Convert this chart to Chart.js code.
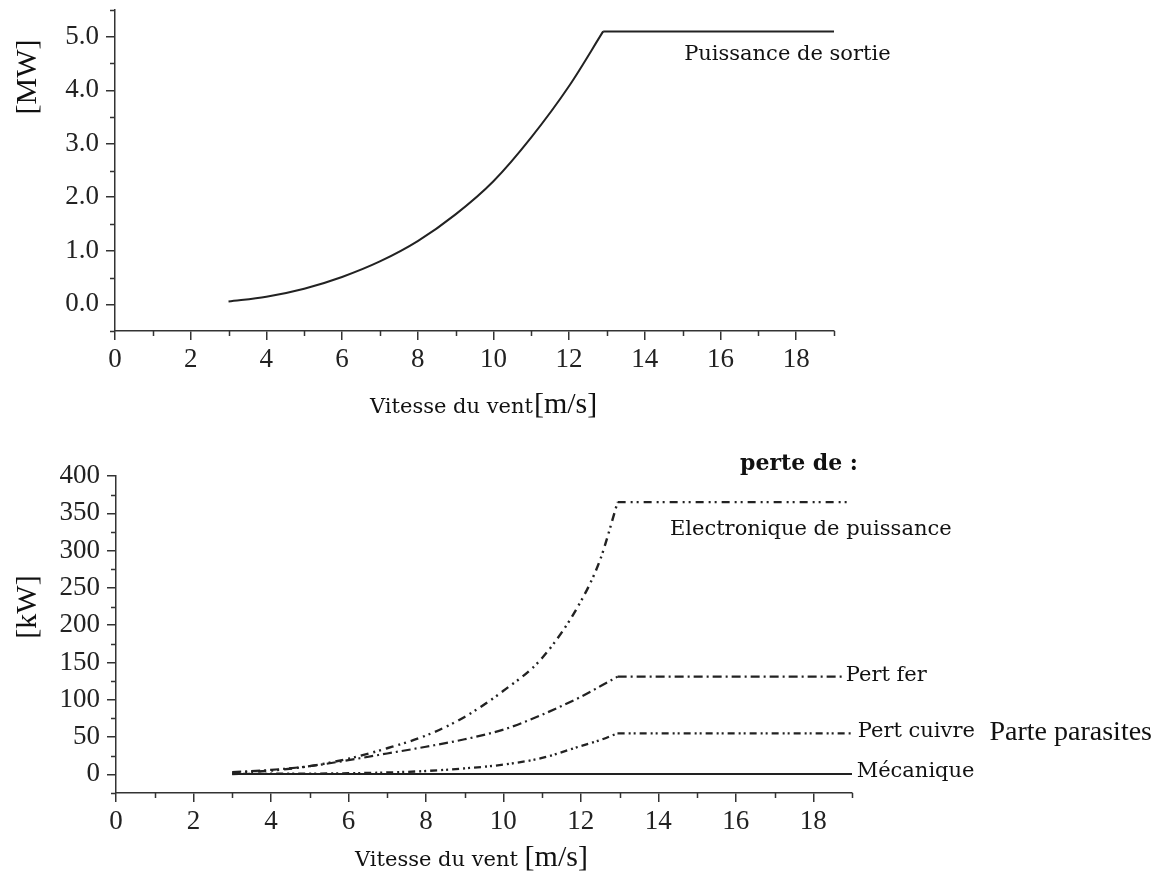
<!DOCTYPE html>
<html>
<head>
<meta charset="utf-8">
<script src="https://cdn.jsdelivr.net/npm/chart.js@4.4.1/dist/chart.umd.min.js"></script>
<style>
  html, body { margin: 0; padding: 0; background: #ffffff; }
  #page { position: relative; width: 1170px; height: 880px; overflow: hidden; background: #fff; }
  #page canvas { position: absolute; left: 0; }
</style>
</head>
<body>
<div id="page">
  <canvas id="powerChart" width="1170" height="460" style="top:-20px"></canvas>
  <canvas id="lossChart" width="1170" height="440" style="top:440px"></canvas>
</div>
<script>
// ---- Output power (MW) versus wind speed ----
const speedRamp      = [3, 4, 5, 6, 7, 8, 9, 10, 11, 12, 12.9];
const outputMW       = [0.05, 0.14, 0.29, 0.51, 0.80, 1.18, 1.68, 2.30, 3.12, 4.08, 5.10];
const plateauSpeed   = [12.9, 19];
const outputRatedMW  = [5.10, 5.10];

// ---- Losses (kW) versus wind speed ----
const lossSpeed        = [3, 4, 5, 6, 7, 8, 9, 10, 11, 12, 12.5, 12.95];
const electroniqueKW   = [2, 5, 11, 21, 35, 52, 77, 112, 156, 232, 288, 365];
const ferKW            = [3, 6, 11, 19, 28, 37, 47, 60, 80, 104, 118, 131];
const cuivreKW         = [0.5, 0.8, 1, 1.5, 2.5, 4.5, 8, 13, 22, 38, 46, 55];
const electroniqueFlatSpeed = [12.95, 18.9];
const electroniqueFlatKW    = [365, 365];
const ferFlatSpeed     = [12.95, 18.8];
const ferFlatKW        = [131, 131];
const cuivreFlatSpeed  = [12.95, 19];
const cuivreFlatKW     = [55, 55];
const mecaSpeed        = [3, 19];
const mecaKW           = [0.5, 0.5];

// ---- Axis ticks ----
const speedTicks      = [0, 2, 4, 6, 8, 10, 12, 14, 16, 18];
const speedMinorTicks = [1, 3, 5, 7, 9, 11, 13, 15, 17, 19];
const mwTicks         = [0, 1, 2, 3, 4, 5];
const mwMinorTicks    = [-0.5, 0.5, 1.5, 2.5, 3.5, 4.5, 5.5];
const kwTicks         = [0, 50, 100, 150, 200, 250, 300, 350, 400];
const kwMinorTicks    = [-25, 25, 75, 125, 175, 225, 275, 325, 375];

const INK = '#222222';
const AXIS = '#333333';
const NUM_FONT = 'Liberation Serif';
const TXT_FONT = 'DejaVu Serif';
const LABEL = '21px "' + TXT_FONT + '"';
const UNIT = '30px "' + NUM_FONT + '"';

function pts(xs, ys) { return xs.map((x, i) => ({ x: x, y: ys[i] })); }

function lineSet(data, dash, width, smooth) {
  return {
    data: data,
    borderColor: INK,
    borderWidth: width,
    borderDash: dash,
    pointRadius: 0,
    fill: false,
    tension: smooth ? 0.4 : 0,
    cubicInterpolationMode: smooth ? 'monotone' : 'default'
  };
}

// short outward ticks between the labelled ones
const minorTickPlugin = {
  id: 'minorTicks',
  afterDraw(chart, args, opts) {
    const ctx = chart.ctx;
    const xs = chart.scales.x, ys = chart.scales.y;
    const area = chart.chartArea;
    ctx.save();
    ctx.strokeStyle = AXIS;
    ctx.lineWidth = 1.5;
    ctx.beginPath();
    (opts.x || []).forEach(v => {
      const px = Math.round(xs.getPixelForValue(v)) + 0.5;
      ctx.moveTo(px, area.bottom);
      ctx.lineTo(px, area.bottom + 5);
    });
    (opts.y || []).forEach(v => {
      const py = Math.round(ys.getPixelForValue(v)) + 0.5;
      ctx.moveTo(area.left, py);
      ctx.lineTo(area.left - 5, py);
    });
    ctx.stroke();
    ctx.restore();
  }
};

// free text: curve labels (data coordinates) and axis titles (page coordinates)
const textPlugin = {
  id: 'textLayer',
  afterDraw(chart, args, opts) {
    const ctx = chart.ctx;
    const top = opts.pageTop || 0;
    ctx.save();
    ctx.fillStyle = '#111111';
    (opts.items || []).forEach(it => {
      let x, y;
      if (it.data) {
        x = chart.scales.x.getPixelForValue(it.x);
        y = chart.scales.y.getPixelForValue(it.y);
      } else {
        x = it.x;
        y = it.y - top;
      }
      ctx.save();
      ctx.translate(x, y);
      if (it.rotate) ctx.rotate(-Math.PI / 2);
      ctx.textBaseline = it.baseline || 'middle';
      ctx.textAlign = it.align || 'left';
      let cx = 0;
      it.parts.forEach(p => {
        ctx.font = p.font;
        ctx.fillText(p.text, cx, 0);
        cx += ctx.measureText(p.text).width + (p.gap || 0);
      });
      ctx.restore();
    });
    ctx.restore();
  }
};

function axisCommon(min, max, ticks, fmt, isY, fixedSize) {
  return {
    type: 'linear',
    min: min,
    max: max,
    afterBuildTicks(scale) { scale.ticks = ticks.map(v => ({ value: v })); },
    afterFit(scale) {
      if (isY) scale.width = fixedSize; else scale.height = fixedSize;
    },
    grid: {
      display: true,
      drawOnChartArea: false,
      drawTicks: true,
      tickLength: 9,
      color: AXIS,
      lineWidth: 1.5
    },
    border: { display: true, color: AXIS, width: 1.5 },
    ticks: {
      color: INK,
      padding: isY ? 7 : 4,
      autoSkip: false,
      maxRotation: 0,
      font: { family: NUM_FONT, size: 27 },
      callback: fmt
    },
    title: { display: false }
  };
}

Chart.defaults.animation = false;

// ---------- upper chart ----------
new Chart(document.getElementById('powerChart'), {
  type: 'line',
  data: {
    datasets: [
      lineSet(pts(speedRamp, outputMW), [], 2, true),
      lineSet(pts(plateauSpeed, outputRatedMW), [], 2, false)
    ]
  },
  options: {
    responsive: false,
    animation: false,
    layout: { padding: { left: 0, top: 30, right: 336, bottom: 0 } },
    plugins: {
      legend: { display: false },
      tooltip: { enabled: false },
      minorTicks: { x: speedMinorTicks, y: mwMinorTicks },
      textLayer: {
        pageTop: -20,
        items: [
          { data: true, x: 15.04, y: 4.67, parts: [{ text: 'Puissance de sortie', font: LABEL }] },
          { x: 370, y: 413, baseline: 'alphabetic', parts: [
              { text: 'Vitesse du vent', font: LABEL, gap: 1 },
              { text: '[m/s]', font: UNIT }
          ] },
          { x: 36, y: 77, rotate: true, align: 'center', baseline: 'alphabetic', parts: [{ text: '[MW]', font: UNIT }] }
        ]
      }
    },
    scales: {
      x: axisCommon(0, 19, speedTicks, v => String(v), false, 109),
      y: axisCommon(-0.5, 5.5, mwTicks, v => Number(v).toFixed(1), true, 115)
    }
  },
  plugins: [minorTickPlugin, textPlugin]
});

// ---------- lower chart ----------
const dashElec   = [8, 5, 2, 4, 2, 5];
const dashFer    = [9, 4, 2, 4];
const dashCuivre = [7, 4, 2, 3, 2, 4];

new Chart(document.getElementById('lossChart'), {
  type: 'line',
  data: {
    datasets: [
      lineSet(pts(lossSpeed, electroniqueKW), dashElec, 2.4, true),
      lineSet(pts(electroniqueFlatSpeed, electroniqueFlatKW), dashElec, 2.4, false),
      lineSet(pts(lossSpeed, ferKW), dashFer, 2.2, true),
      lineSet(pts(ferFlatSpeed, ferFlatKW), dashFer, 2.2, false),
      lineSet(pts(lossSpeed, cuivreKW), dashCuivre, 2.3, true),
      lineSet(pts(cuivreFlatSpeed, cuivreFlatKW), dashCuivre, 2.3, false),
      lineSet(pts(mecaSpeed, mecaKW), [], 1.8, false)
    ]
  },
  options: {
    responsive: false,
    animation: false,
    layout: { padding: { left: 0, top: 36, right: 318, bottom: 0 } },
    plugins: {
      legend: { display: false },
      tooltip: { enabled: false },
      minorTicks: { x: speedMinorTicks, y: kwMinorTicks },
      textLayer: {
        pageTop: 440,
        items: [
          { x: 740, y: 464, parts: [{ text: 'perte de :', font: 'bold 22px "' + TXT_FONT + '"' }] },
          { data: true, x: 14.3, y: 328, parts: [{ text: 'Electronique de puissance', font: LABEL }] },
          { data: true, x: 18.84, y: 132, parts: [{ text: 'Pert fer', font: LABEL }] },
          { data: true, x: 19.15, y: 57, parts: [{ text: 'Pert cuivre', font: LABEL }] },
          { data: true, x: 22.55, y: 55.7, parts: [{ text: 'Parte parasites', font: '28px "' + NUM_FONT + '"' }] },
          { data: true, x: 19.12, y: 4.4, parts: [{ text: 'Mécanique', font: LABEL }] },
          { x: 355, y: 866, baseline: 'alphabetic', parts: [
              { text: 'Vitesse du vent ', font: LABEL },
              { text: '[m/s]', font: UNIT }
          ] },
          { x: 36, y: 607, rotate: true, align: 'center', baseline: 'alphabetic', parts: [{ text: '[kW]', font: UNIT }] }
        ]
      }
    },
    scales: {
      x: axisCommon(0, 19, speedTicks, v => String(v), false, 87),
      y: axisCommon(-25, 400, kwTicks, v => String(v), true, 116)
    }
  },
  plugins: [minorTickPlugin, textPlugin]
});
</script>
</body>
</html>
